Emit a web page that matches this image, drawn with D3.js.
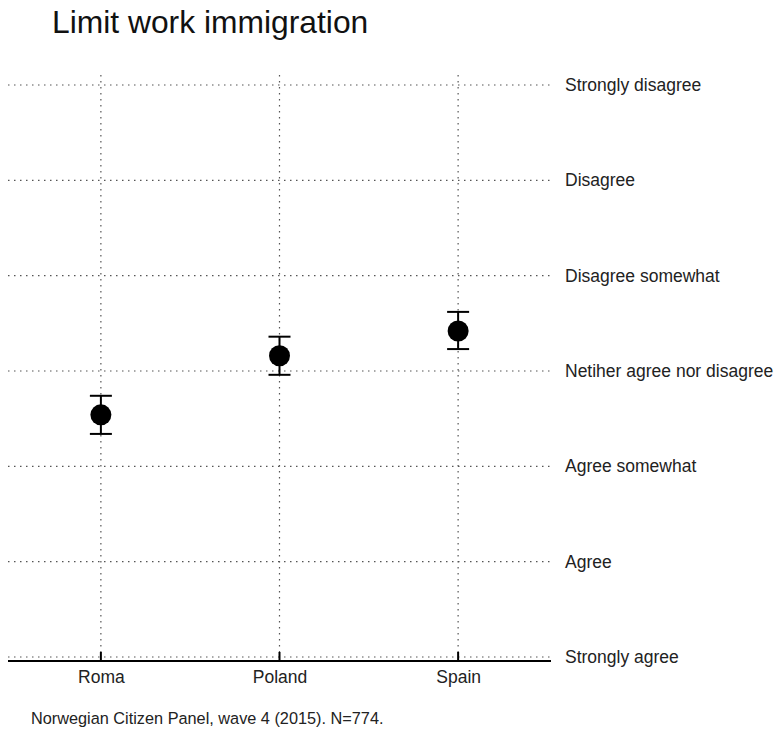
<!DOCTYPE html>
<html><head><meta charset="utf-8">
<script src="https://cdn.jsdelivr.net/npm/d3@7"></script>
<style>body{margin:0;background:#fff;} text{font-family:"Liberation Sans", Arial, sans-serif;}</style>
</head><body>
<svg id="c" width="777" height="732"></svg>
<script>
const categories = ["Roma", "Poland", "Spain"];
const means = [3.54, 4.16, 4.42];
const lower = [3.34, 3.96, 4.23];
const upper = [3.74, 4.36, 4.62];
const levelLabels = ["Strongly agree", "Agree", "Agree somewhat", "Netiher agree nor disagree", "Disagree somewhat", "Disagree", "Strongly disagree"];
const levelValues = [1, 2, 3, 4, 5, 6, 7];
const title = "Limit work immigration";
const caption = "Norwegian Citizen Panel, wave 4 (2015). N=774.";

(function () {
const FONT = "'Liberation Sans', Arial, sans-serif";
const svg = d3.select("#c");
const pLeft = 8, pRight = 551, pTop = 75, y1 = 657, y7 = 85;
const x = d3.scalePoint().domain(categories).range([pLeft, pRight]).padding(0.52);
const y = d3.scaleLinear().domain([1, 7]).range([y1, y7]);

svg.append("text").attr("x", 52).attr("y", 33).attr("font-size", 31.8).attr("fill", "#111").text(title);

svg.append("g").selectAll("line").data(levelValues).join("line")
  .attr("x1", pLeft).attr("x2", pRight).attr("y1", d => y(d)).attr("y2", d => y(d))
  .attr("stroke", "#555").attr("stroke-width", 1.2).attr("stroke-dasharray", "1.5,4.5");
svg.append("g").selectAll("line").data(categories).join("line")
  .attr("x1", d => x(d)).attr("x2", d => x(d)).attr("y1", pTop).attr("y2", y1)
  .attr("stroke", "#555").attr("stroke-width", 1.2).attr("stroke-dasharray", "1.5,4.5");

svg.append("g").selectAll("text").data(levelValues).join("text")
  .attr("x", 565).attr("y", d => y(d)).attr("dy", "0.35em")
  .attr("font-size", 17.5).attr("fill", "#222").text((d, i) => levelLabels[i]);

const axis = svg.append("g").attr("transform", `translate(0,${y1 + 4})`)
  .call(d3.axisBottom(x).tickSize(0).tickPadding(10));
axis.select(".domain").attr("d", `M${pLeft},0H${pRight}`).attr("stroke", "#000").attr("stroke-width", 2);
axis.selectAll(".tick text").attr("font-size", 17.5).attr("fill", "#222").attr("font-family", FONT);
svg.append("g").selectAll("line").data(categories).join("line")
  .attr("x1", d => x(d)).attr("x2", d => x(d)).attr("y1", y1 - 5).attr("y2", y1 + 4)
  .attr("stroke", "#000").attr("stroke-width", 2);

const g = svg.append("g");
categories.forEach((c, i) => {
  const cx = x(c);
  g.append("line").attr("x1", cx).attr("x2", cx).attr("y1", y(lower[i])).attr("y2", y(upper[i])).attr("stroke", "#000").attr("stroke-width", 2);
  [lower[i], upper[i]].forEach(v => {
    g.append("line").attr("x1", cx - 11).attr("x2", cx + 11).attr("y1", y(v)).attr("y2", y(v)).attr("stroke", "#000").attr("stroke-width", 2);
  });
  g.append("circle").attr("cx", cx).attr("cy", y(means[i])).attr("r", 10.5).attr("fill", "#000");
});

svg.append("text").attr("x", 31).attr("y", 724).attr("font-size", 16.3).attr("fill", "#222").text(caption);
})();
</script>
</body></html>
